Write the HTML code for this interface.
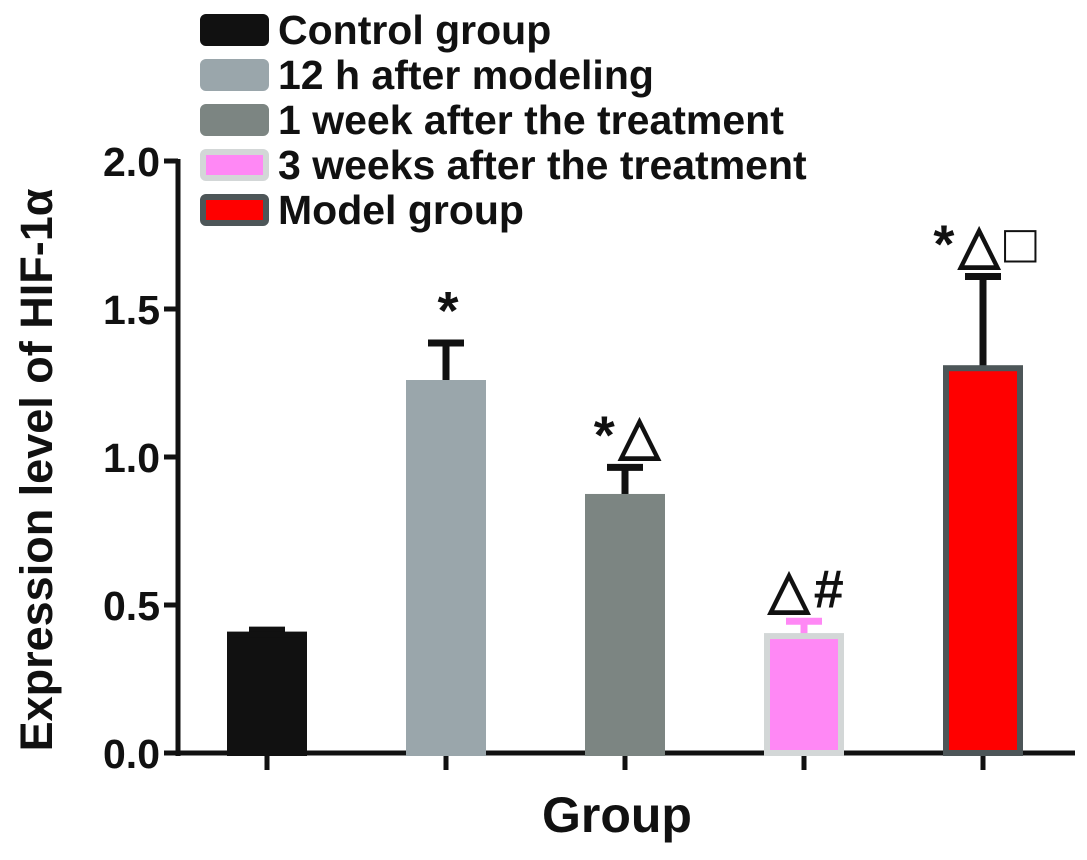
<!DOCTYPE html>
<html><head><meta charset="utf-8"><style>
body{margin:0;background:#fff}
svg text{font-family:"Liberation Sans",sans-serif;font-weight:bold;fill:#111}
</style></head><body>
<svg id="chart" width="1087" height="855" viewBox="0 0 1087 855" xmlns="http://www.w3.org/2000/svg">
<g id="legend"></g>
<g id="axes"></g>
<g id="bars"></g>
</svg>
<script>
const categories=["Control group","12 h after modeling","1 week after the treatment","3 weeks after the treatment","Model group"];
const values=[0.40,1.25,0.865,0.395,1.30];
const errors=[0.015,0.135,0.10,0.05,0.31];
const marks=["","*","*△","△#","*△□"];
const yTicks=[0,0.5,1.0,1.5,2.0];
const yTickLabels=["0.0","0.5","1.0","1.5","2.0"];
const fills=["#111","#9aa6ab","#7c8582","#ff88f5","#ff0000"];
const strokes=["#111","#9aa6ab","#7c8582","#d3d7d7","#4d5658"];
const errColors=["#111","#111","#111","#ff88f5","#111"];
const NS="http://www.w3.org/2000/svg";
const x0=178,x1=1075,yBase=753,pxPerUnit=296;
function y(v){return yBase-v*pxPerUnit;}
function xc(i){return 267+i*179;}
function mk(tag,attrs,parent){const e=document.createElementNS(NS,tag);for(const k in attrs)e.setAttribute(k,attrs[k]);parent.appendChild(e);return e;}
const axes=document.getElementById('axes'),bars=document.getElementById('bars'),legend=document.getElementById('legend');
let yl=mk('line',{x1:x0,y1:y(2)-2,x2:x0,y2:yBase+3,stroke:'#111','stroke-width':5},axes);


let xl=mk('line',{x1:x0-2,y1:yBase,x2:x1,y2:yBase,stroke:'#111','stroke-width':5},axes);


yTicks.forEach((t,i)=>{
  let tk=mk('line',{x1:x0-14,y1:y(t),x2:x0,y2:y(t),stroke:'#111','stroke-width':5},axes);
  
  
  let tl=mk('text',{x:x0-18,y:y(t)+15,'text-anchor':'end','font-size':41},axes);
  tl.textContent=yTickLabels[i];
  
  
});
let yt=mk('text',{x:0,y:0,'text-anchor':'middle','font-size':45,transform:'translate(52,470) rotate(-90)'},axes);
yt.textContent="Expression level of HIF-1α";


let xt=mk('text',{x:617,y:832,'text-anchor':'middle','font-size':50},axes);
xt.textContent="Group";


const bw=74;
categories.forEach((c,i)=>{
  const cx=xc(i);
  let tk=mk('line',{x1:cx,y1:yBase,x2:cx,y2:yBase+17,stroke:'#111','stroke-width':5},axes);
  
  
  const top=y(values[i]),et=y(values[i]+errors[i]);
  let eb=mk('line',{x1:cx,y1:et,x2:cx,y2:top,stroke:errColors[i],'stroke-width':7},bars);
  
  
  let ec=mk('line',{x1:cx-18,y1:et,x2:cx+18,y2:et,stroke:errColors[i],'stroke-width':7},bars);
  
  
  let r=mk('rect',{x:cx-bw/2,y:top,width:bw,height:yBase-top,fill:fills[i],stroke:strokes[i],'stroke-width':6},bars);
  
  
  if(marks[i]){
    let m=mk('text',{x:cx+4,y:et-14,'text-anchor':'middle','font-size':54,'letter-spacing':4},bars);
    m.textContent=marks[i];
    
    
  }
  const ly=30+i*45;
  let sw=mk('rect',{x:203,y:ly-13,width:63,height:26,rx:3,fill:fills[i],stroke:strokes[i],'stroke-width':6},legend);
  
  
  let lt=mk('text',{x:278,y:ly+14,'font-size':41},legend);
  lt.textContent=c;
  
  
});
</script>
</body></html>
